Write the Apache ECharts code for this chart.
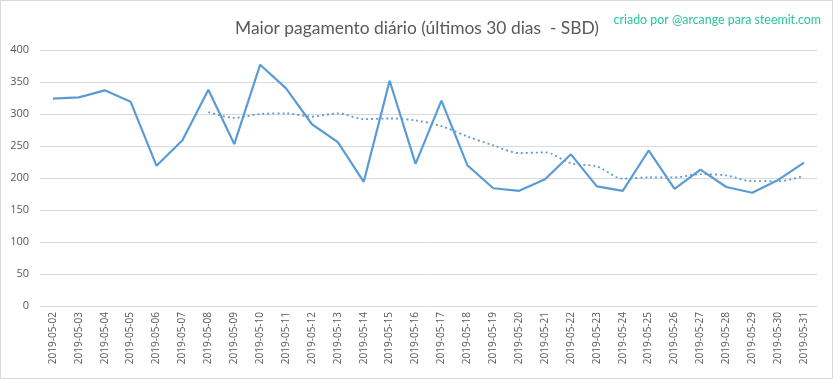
<!DOCTYPE html>
<html><head><meta charset="utf-8">
<script src="https://cdn.jsdelivr.net/npm/echarts@6/dist/echarts.min.js"></script>
<style>
html,body{margin:0;padding:0;background:#fff;}
#c{position:absolute;left:0;top:0;width:831px;height:377px;border:1px solid #d9d9d9;}
</style></head><body>
<div id="c"></div>
<script>
const categories = ["2019-05-02","2019-05-03","2019-05-04","2019-05-05","2019-05-06","2019-05-07","2019-05-08","2019-05-09","2019-05-10","2019-05-11","2019-05-12","2019-05-13","2019-05-14","2019-05-15","2019-05-16","2019-05-17","2019-05-18","2019-05-19","2019-05-20","2019-05-21","2019-05-22","2019-05-23","2019-05-24","2019-05-25","2019-05-26","2019-05-27","2019-05-28","2019-05-29","2019-05-30","2019-05-31"];
const maxPayout = [324,326,337,319,219,259,338,253,377,340,284,256,194,352,222,321,220,184,180,198,237,187,180,243,183,213,186,177,197,224];
const movingAvg = [null,null,null,null,null,null,303,294,300,301,296,301,292,293,290,281,265,251,239,240,223,218,199,201,201,206,204,195,195,203];
const yTicks = {min:0,max:400,interval:50};

const chart = echarts.init(document.getElementById('c'));
chart.setOption({
  animation:false,
  title:[{text:'Maior pagamento diário (últimos 30 dias  - SBD)',left:411,top:14,textAlign:'center',
    textStyle:{fontFamily:'Lato',fontSize:17.4,fontWeight:'normal',color:'#595959'}},
    {text:'criado por @arcange para steemit.com',right:6,top:8,
    textStyle:{fontFamily:'Lato',fontSize:12.4,fontWeight:'normal',color:'#2ac59c'}}],
  grid:{left:39,right:15,top:49,bottom:72},
  xAxis:{type:'category',data:categories,boundaryGap:true,
    axisLine:{lineStyle:{color:'#d9d9d9'}},axisTick:{show:false},
    axisLabel:{rotate:90,color:'#595959',fontFamily:'Open Sans',fontSize:10,margin:6,interval:0}},
  yAxis:{type:'value',min:yTicks.min,max:yTicks.max,interval:yTicks.interval,
    axisLine:{show:false},axisTick:{show:false},
    splitLine:{lineStyle:{color:'#d9d9d9'}},
    axisLabel:{color:'#595959',fontFamily:'Open Sans',fontSize:11,margin:11}},
  series:[
    {type:'line',data:maxPayout,symbol:'none',lineStyle:{color:'#5b9bd5',width:2.2},z:3},
    {type:'line',data:movingAvg,symbol:'none',smooth:0.3,lineStyle:{color:'#5b9bd5',width:1.8,type:[2,3]},z:2}
  ]
});
</script></body></html>
